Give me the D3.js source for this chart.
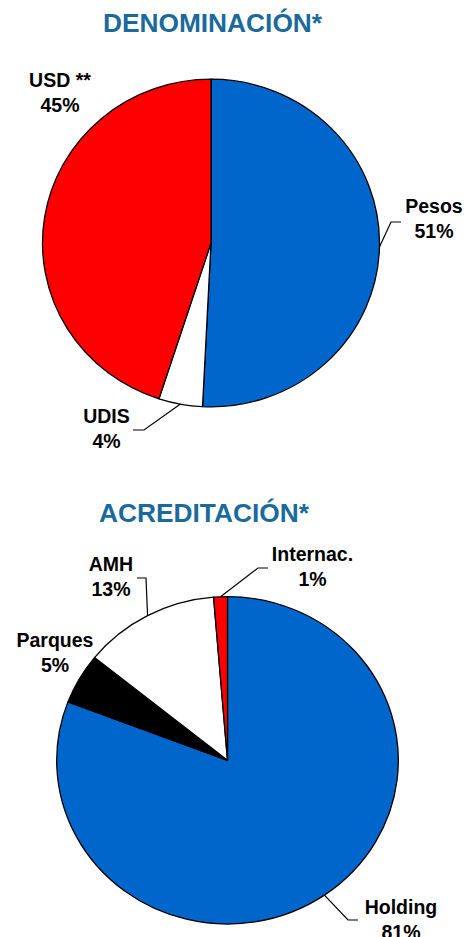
<!DOCTYPE html>
<html>
  <head>
    <meta charset="utf-8">
    <title>Denominación y Acreditación</title>
    <script src="https://d3js.org/d3.v7.min.js"></script>
    <style>
      body { margin: 0; background: #fff; }
      text { font-family: "Liberation Sans", Arial, sans-serif; font-weight: bold; }
    </style>
  </head>
  <body>
<script>

// Data: denominación
var denomNames  = ["Pesos", "UDIS", "USD **"];
var denomValues = [50.8, 4.2, 45.0];
var denomLabels = ["51%", "4%", "45%"];

// Data: acreditación
var acredNames  = ["Holding", "Parques", "AMH", "Internac."];
var acredValues = [80.8, 5.0, 12.9, 1.3];
var acredLabels = ["81%", "5%", "13%", "1%"];

var colors = {
  "Pesos": "#0066CC", "UDIS": "#FFFFFF", "USD **": "#FF0000",
  "Holding": "#0066CC", "Parques": "#000000", "AMH": "#FFFFFF", "Internac.": "#FF0000"
};

var W = 469, H = 937;
var svg = d3.select("body").append("svg")
    .attr("width", W)
    .attr("height", H);

// chart layouts (label box = [x center, baseline of first line], knee / end of leader)
var charts = [
  {
    title: "DENOMINACIÓN*", tx: 212.5, ty: 32,
    cx: 211, cy: 243, rx: 168.5, ry: 163.8,
    names: denomNames, values: denomValues, labels: denomLabels,
    layout: {
      "Pesos":  { x: 434, y: 213, knee: [391, 222], end: [401, 222] },
      "UDIS":   { x: 106.5, y: 423, knee: [144, 430], end: [133, 430] },
      "USD **": { x: 60, y: 87 }
    }
  },
  {
    title: "ACREDITACIÓN*", tx: 204, ty: 522,
    cx: 227.5, cy: 760.3, rx: 170.8, ry: 163.7,
    names: acredNames, values: acredValues, labels: acredLabels,
    layout: {
      "Holding":   { x: 401, y: 914, knee: [348, 920], end: [358, 920] },
      "Parques":   { x: 55, y: 647 },
      "AMH":       { x: 111, y: 571, knee: [146, 578], end: [137, 578] },
      "Internac.": { x: 312.5, y: 561, knee: [258, 568], end: [268, 568] }
    }
  }
];

charts.forEach(function(c) {
  var data = c.names.map(function(n, i) {
    return { name: n, value: c.values[i], label: c.labels[i] };
  });

  var pie = d3.pie().sort(null).value(function(d) { return d.value; });
  var arcs = pie(data);
  var arc = d3.arc().innerRadius(0).outerRadius(c.rx);

  // title
  svg.append("text")
     .attr("x", c.tx)
     .attr("y", c.ty)
     .attr("text-anchor", "middle")
     .style("font-size", "26.3px")
     .style("fill", "#1A6A9C")
     .text(c.title);

  // slices (slightly flattened, as in the original)
  var g = svg.append("g")
     .attr("transform", "translate(" + c.cx + "," + c.cy + ") scale(1," + (c.ry / c.rx) + ")");

  g.selectAll("path")
   .data(arcs)
   .enter().append("path")
   .attr("d", arc)
   .attr("fill", function(d) { return colors[d.data.name]; })
   .attr("stroke", "#000")
   .attr("stroke-width", 1.3)
   .attr("stroke-linejoin", "round")
   .attr("vector-effect", "non-scaling-stroke");

  // leader lines + labels
  arcs.forEach(function(d) {
    var L = c.layout[d.data.name];
    var mid = (d.startAngle + d.endAngle) / 2;
    var px = c.cx + c.rx * Math.sin(mid),
        py = c.cy - c.ry * Math.cos(mid);

    if (L.knee) {
      svg.append("polyline")
         .attr("points", [[px, py], L.knee, L.end].map(function(p) { return p.join(","); }).join(" "))
         .attr("fill", "none")
         .attr("stroke", "#000")
         .attr("stroke-width", 1.2);
    }

    var t = svg.append("text")
       .attr("x", L.x)
       .attr("y", L.y)
       .attr("text-anchor", "middle")
       .style("font-size", "19.5px")
       .style("fill", "#000");
    t.append("tspan").attr("x", L.x).text(d.data.name);
    t.append("tspan").attr("x", L.x).attr("dy", 24.5).text(d.data.label);
  });
});

</script>
  </body>
</html>
